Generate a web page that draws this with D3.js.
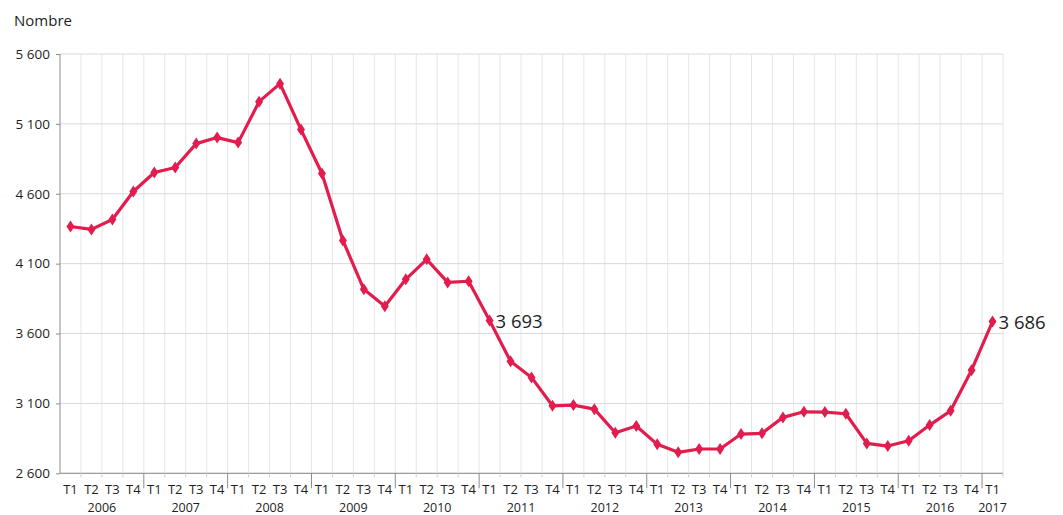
<!DOCTYPE html>
<html>
<head>
<meta charset="utf-8">
<script src="https://cdn.jsdelivr.net/npm/d3@7"></script>
<style>
  body { margin: 0; background: #fff; }
  svg { display: block; font-family: "Open Sans", sans-serif; }
</style>
</head>
<body>
<script>
// years and quarters
var years = ["2006", "2007", "2008", "2009", "2010", "2011", "2012", "2013", "2014", "2015", "2016", "2017"];
var quarters = ["T1", "T2", "T3", "T4"];

// quarterly values, 2006 T1 .. 2017 T1
var values = [4366, 4345, 4416, 4616,
              4752, 4788, 4959, 5002,
              4966, 5259, 5388, 5059,
              4745, 4266, 3916, 3795,
              3988, 4131, 3966, 3974,
              3693, 3402, 3286, 3083,
              3088, 3059, 2890, 2938,
              2807, 2750, 2774, 2774,
              2881, 2886, 3000, 3040,
              3038, 3026, 2814, 2795,
              2833, 2945, 3047, 3338,
              3686];

var yTicks = [2600, 3100, 3600, 4100, 4600, 5100, 5600];
var labelled = [20, 44]; // points that carry a value label

var w = 1063, h = 515;
var mLeft = 60, mRight = 1003, mTop = 54, mBottom = 473.3;
var ink = "#1e1e1e";

// build category keys
var cats = [];
years.forEach(function(yr) {
  quarters.forEach(function(q) {
    if (cats.length < values.length) cats.push({ key: yr + "-" + q, year: yr, q: q });
  });
});

var fmt = function(d) { return d3.format(",")(d).replace(/,/g, " "); };

var svg = d3.select("body").append("svg")
  .attr("width", w)
  .attr("height", h);

var x = d3.scaleBand()
  .domain(cats.map(function(c) { return c.key; }))
  .range([mLeft, mRight]);

var y = d3.scaleLinear()
  .domain([2600, 5600])
  .range([mBottom, mTop]);

var edges = cats.slice(1).concat([null]);
var edgeX = function(d) { return d ? x(d.key) : mRight; };

// vertical grid at band edges
svg.append("g")
  .selectAll("line")
  .data(edges)
  .enter()
  .append("line")
  .attr("x1", edgeX)
  .attr("x2", edgeX)
  .attr("y1", mTop)
  .attr("y2", mBottom)
  .attr("stroke", "#e6e6e6")
  .attr("stroke-width", 1);

// horizontal grid
svg.append("g")
  .selectAll("line")
  .data(yTicks)
  .enter()
  .append("line")
  .attr("x1", mLeft)
  .attr("x2", mRight)
  .attr("y1", function(d) { return y(d); })
  .attr("y2", function(d) { return y(d); })
  .attr("stroke", "#d9d9d9")
  .attr("stroke-width", 1);

// y axis
var yAxis = d3.axisLeft(y)
  .tickValues(yTicks)
  .tickSize(4)
  .tickPadding(6)
  .tickFormat(fmt);

var gy = svg.append("g")
  .attr("transform", "translate(" + mLeft + ",0)")
  .call(yAxis);
gy.select(".domain").attr("d", "M0," + mTop + "V" + mBottom);
gy.selectAll("path, line").attr("stroke", "#8c8c8c");
gy.selectAll("text")
  .attr("font-size", "13.5px")
  .attr("fill", ink)
  .attr("font-family", "Open Sans, sans-serif");

// x axis line
svg.append("line")
  .attr("x1", mLeft).attr("x2", mRight)
  .attr("y1", mBottom).attr("y2", mBottom)
  .attr("stroke", "#8c8c8c");

// minor ticks at band edges, longer at year boundaries
svg.append("g")
  .selectAll("line")
  .data(edges)
  .enter()
  .append("line")
  .attr("x1", edgeX)
  .attr("x2", edgeX)
  .attr("y1", mBottom)
  .attr("y2", function(d) { return d && d.q === "T1" ? mBottom + 15 : mBottom + 4; })
  .attr("stroke", function(d) { return d && d.q === "T1" ? "#8c8c8c" : "#cfcfcf"; });

// quarter labels
svg.append("g")
  .selectAll("text")
  .data(cats)
  .enter()
  .append("text")
  .attr("x", function(d) { return x(d.key) + x.bandwidth() / 2; })
  .attr("y", 494)
  .attr("text-anchor", "middle")
  .attr("font-size", "13px")
  .attr("fill", ink)
  .text(function(d) { return d.q; });

// year labels
svg.append("g")
  .selectAll("text")
  .data(years)
  .enter()
  .append("text")
  .attr("x", function(yr) {
    var ks = cats.filter(function(c) { return c.year === yr; });
    var a = x(ks[0].key), b = x(ks[ks.length - 1].key) + x.bandwidth();
    return (a + b) / 2;
  })
  .attr("y", 511.5)
  .attr("text-anchor", "middle")
  .attr("font-size", "12.5px")
  .attr("fill", ink)
  .text(function(d) { return d; });

// title
svg.append("text")
  .attr("x", 14)
  .attr("y", 26)
  .attr("font-size", "15px")
  .attr("fill", ink)
  .text("Nombre");

var red = "#e31c4e";

var line = d3.line()
  .x(function(d, i) { return x(cats[i].key) + x.bandwidth() / 2; })
  .y(function(d) { return y(d); });

svg.append("path")
  .datum(values)
  .attr("d", line)
  .attr("fill", "none")
  .attr("stroke", red)
  .attr("stroke-width", 3.2)
  .attr("stroke-linejoin", "round");

// diamond markers
svg.append("g")
  .selectAll("path")
  .data(values)
  .enter()
  .append("path")
  .attr("transform", function(d, i) {
    return "translate(" + (x(cats[i].key) + x.bandwidth() / 2) + "," + y(d) + ")";
  })
  .attr("d", "M0,-6L4,0L0,6L-4,0Z")
  .attr("fill", red);

// value labels
svg.append("g")
  .selectAll("text")
  .data(labelled)
  .enter()
  .append("text")
  .attr("x", function(i) { return x(cats[i].key) + x.bandwidth() / 2 + 6; })
  .attr("y", function(i) { return y(values[i]) + 7; })
  .attr("font-size", "18.5px")
  .attr("fill", ink)
  .text(function(i) { return fmt(values[i]); });
</script>
</body>
</html>
